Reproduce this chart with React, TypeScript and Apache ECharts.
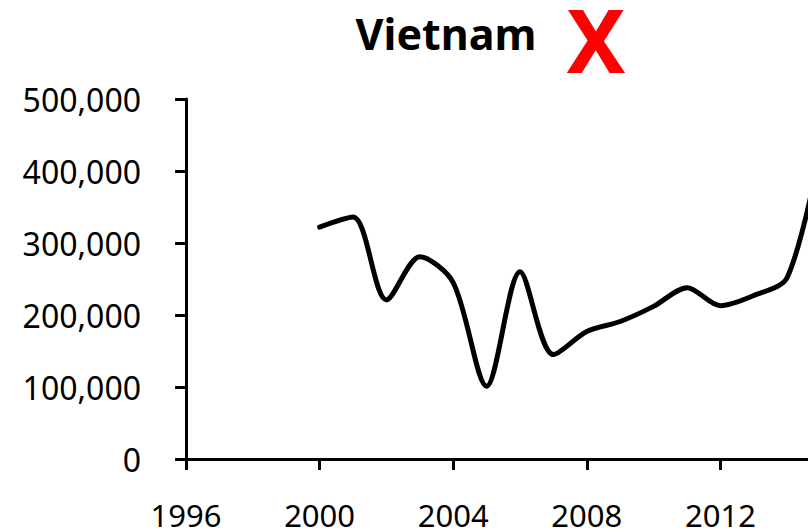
import React, { useEffect, useRef } from "react";
import * as echarts from "echarts";

const years = [2000, 2001, 2002, 2003, 2004, 2005, 2006, 2007, 2008, 2009, 2010, 2011, 2012, 2013, 2014, 2015];
const values = [322000, 336000, 221000, 281000, 245000, 101000, 260000, 145000, 177000, 191000, 212000, 238000, 213000, 227000, 252000, 430000];
const titleText = "Vietnam";
const markText = "X";

const fmt = (v: number) => String(v).replace(/\B(?=(\d{3})+(?!\d))/g, ",");

export default function App() {
  const ref = useRef<HTMLDivElement>(null);
  useEffect(() => {
    if (!ref.current) return;
    const chart = echarts.init(ref.current, undefined, { renderer: "svg" });
    const font = "'Noto Sans', sans-serif";
    chart.setOption({
      animation: false,
      backgroundColor: "#ffffff",
      graphic: [
        {
          type: "text",
          x: 446,
          y: 33,
          style: {
            text: titleText,
            font: `bold 43px ${font}`,
            fill: "#000",
            align: "center",
            verticalAlign: "middle",
          },
        },
        {
          type: "text",
          x: 596,
          y: 39,
          style: {
            text: markText,
            font: `bold 88px ${font}`,
            lineHeight: 66,
            fill: "#ff0000",
            align: "center",
            verticalAlign: "middle",
          },
        },
      ],
      grid: { left: 186, top: 99, bottom: 69, right: 46, containLabel: false },
      xAxis: {
        type: "value",
        min: 1996,
        max: 2016,
        interval: 4,
        axisLine: { show: true, onZero: false, lineStyle: { color: "#000", width: 3 } },
        axisTick: { show: true, length: 11, lineStyle: { color: "#000", width: 3 } },
        splitLine: { show: false },
        axisLabel: {
          margin: 40,
          fontFamily: font,
          fontSize: 31,
          color: "#000",
          formatter: (v: number) => String(v),
        },
      },
      yAxis: {
        type: "value",
        min: 0,
        max: 500000,
        interval: 100000,
        axisLine: { show: true, lineStyle: { color: "#000", width: 3 } },
        axisTick: { show: true, length: 11, lineStyle: { color: "#000", width: 3 } },
        splitLine: { show: false },
        axisLabel: {
          margin: 45,
          fontFamily: font,
          fontSize: 32,
          color: "#000",
          formatter: (v: number) => fmt(v),
        },
      },
      series: [
        {
          type: "line",
          data: years.map((y, i) => [y, values[i]]),
          smooth: 0.3,
          showSymbol: false,
          symbol: "none",
          lineStyle: { color: "#000", width: 5, cap: "round" },
        },
      ],
    });
    return () => chart.dispose();
  }, []);
  return (
    <div
      style={{ position: "fixed", left: 0, top: 0, width: 808, height: 530, overflow: "hidden", background: "#fff" }}
    >
      <div ref={ref} style={{ width: 900, height: 530 }} />
    </div>
  );
}
